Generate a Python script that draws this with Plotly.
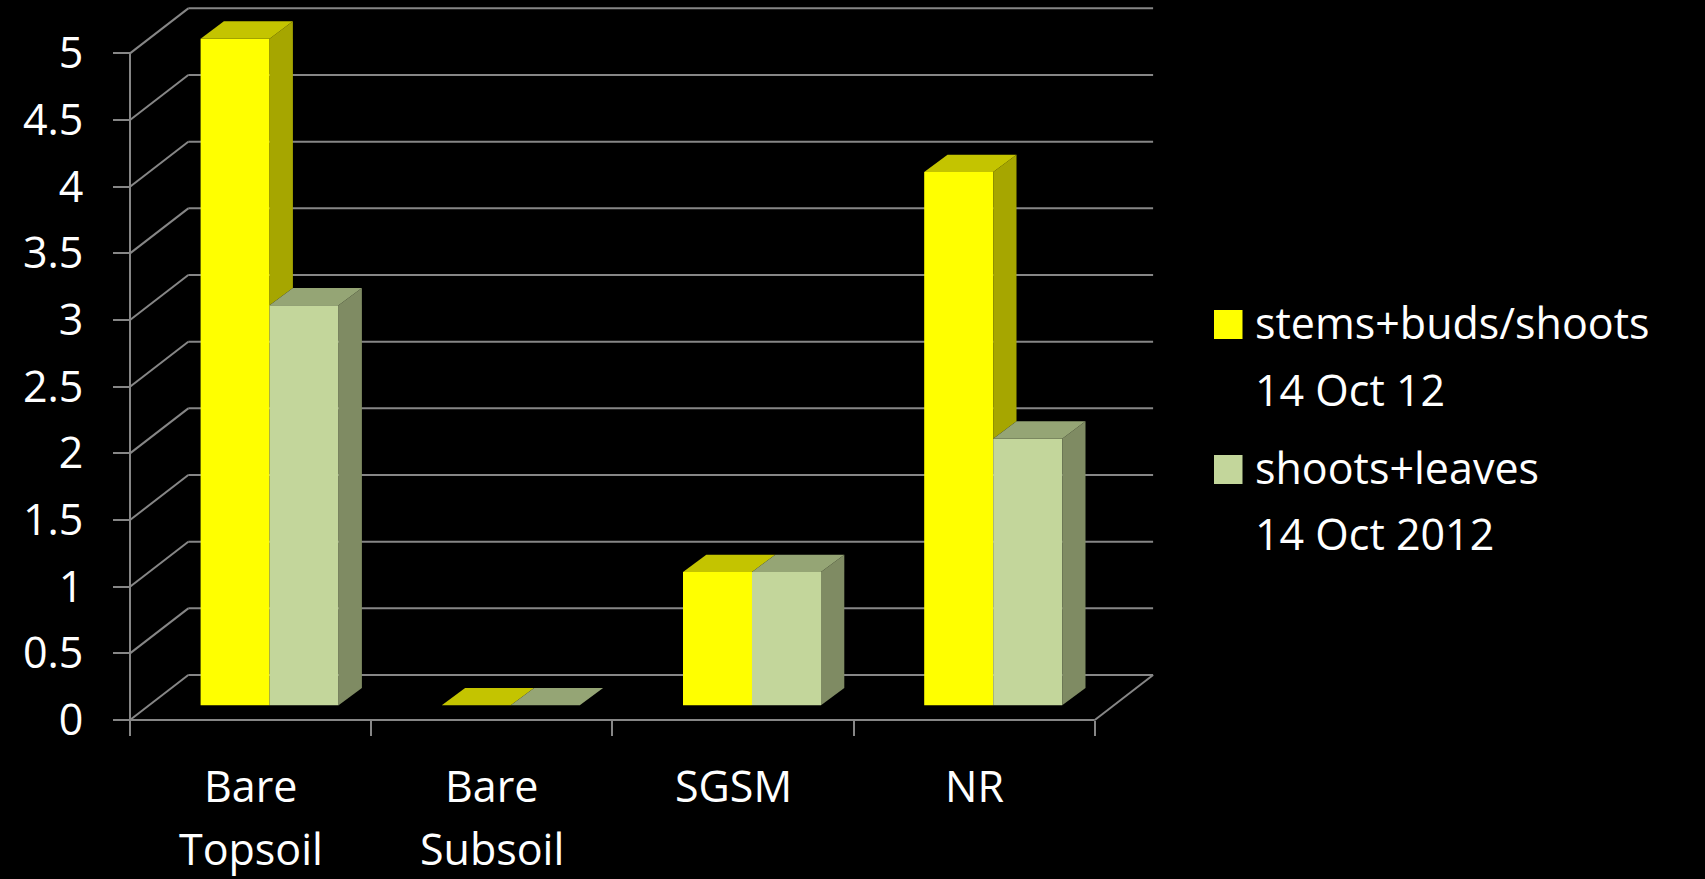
import plotly.graph_objects as go

# ---- data -------------------------------------------------------------
categories = ["Bare Topsoil", "Bare Subsoil", "SGSM", "NR"]
stems_buds = [5, 0, 1, 4]
shoots_leaves = [3, 0, 1, 2]
series_labels = [["stems+buds/shoots", "14 Oct 12"], ["shoots+leaves", "14 Oct 2012"]]
y_ticks = [0, 0.5, 1, 1.5, 2, 2.5, 3, 3.5, 4, 4.5, 5]
y_tick_text = ["0", "0.5", "1", "1.5", "2", "2.5", "3", "3.5", "4", "4.5", "5"]

# ---- styling ----------------------------------------------------------
W_PX, H_PX = 1705, 879
FONT = "Open Sans"
FS = 43
GRID = "#868686"
front_col = ["#FFFF00", "#C3D69B"]
side_col = ["#A6A600", "#7F8B63"]
top_col = ["#C4C400", "#95A575"]

# pixel geometry of the 3-D frame
AX_PX = 130.0          # x pixel of the front value axis
ZERO_PX = 720.0        # y pixel of value 0 on the front plane
CAT_PX = 241.2         # width of one category
UNIT_PX = 133.33       # pixels per value unit
WALL_DX, WALL_DY = 58.3 / CAT_PX, 45.0 / UNIT_PX     # front -> back wall
FACE_DX, FACE_DY = 19.0 / CAT_PX, 14.7 / UNIT_PX     # front -> bar front face
BAR_DX, BAR_DY = 23.3 / CAT_PX, 17.3 / UNIT_PX       # bar depth
BAR_W = 69.0 / CAT_PX

x_left = -0.5
x_right = x_left + len(categories)


def px_x(px):
    return x_left + (px - AX_PX) / CAT_PX


def py_y(py):
    return (ZERO_PX - py) / UNIT_PX


x_range = [px_x(0), px_x(W_PX)]
y_range = [py_y(H_PX), py_y(0)]

fig = go.Figure()

# ---- bars: front faces as bars, side/top faces as filled polygons ------
series = [stems_buds, shoots_leaves]
idx = list(range(len(categories)))
for s, vals in enumerate(series):
    fig.add_trace(go.Bar(
        x=idx, y=vals, base=FACE_DY, width=BAR_W,
        offset=FACE_DX - BAR_W + s * BAR_W,
        marker=dict(color=front_col[s], line=dict(width=0)),
        name=" ".join(series_labels[s]), showlegend=False,
    ))
    for i, v in enumerate(vals):
        xl = i + FACE_DX - BAR_W + s * BAR_W
        xr = xl + BAR_W
        top = FACE_DY + v
        # side face: the part hidden behind the next series is left out
        if s + 1 < len(series):
            low = FACE_DY + min(series[s + 1][i], v)
        else:
            low = FACE_DY
        if top > low:
            fig.add_trace(go.Scatter(
                x=[xr, xr, xr + BAR_DX, xr + BAR_DX, xr],
                y=[low, top, top + BAR_DY, low + BAR_DY, low],
                fill="toself", fillcolor=side_col[s], mode="lines",
                line=dict(width=0), showlegend=False, hoverinfo="skip",
            ))
        fig.add_trace(go.Scatter(
            x=[xl, xr, xr + BAR_DX, xl + BAR_DX, xl],
            y=[top, top, top + BAR_DY, top + BAR_DY, top],
            fill="toself", fillcolor=top_col[s], mode="lines",
            line=dict(width=0), showlegend=False, hoverinfo="skip",
        ))

# ---- walls, floor and grid -------------------------------------------
shapes = []
line = dict(color=GRID, width=2)
for v in y_ticks:
    shapes.append(dict(type="line", xref="x", yref="y", layer="below",
                       x0=x_left + WALL_DX, x1=x_right + WALL_DX,
                       y0=v + WALL_DY, y1=v + WALL_DY, line=line))
    shapes.append(dict(type="line", xref="x", yref="y", layer="below",
                       x0=x_left, x1=x_left + WALL_DX,
                       y0=v, y1=v + WALL_DY, line=line))
shapes.append(dict(type="line", xref="x", yref="y", layer="below",
                   x0=x_left, x1=x_left, y0=0, y1=max(y_ticks), line=line))
shapes.append(dict(type="line", xref="x", yref="y", layer="below",
                   x0=x_left, x1=x_right, y0=0, y1=0, line=line))
shapes.append(dict(type="line", xref="x", yref="y", layer="below",
                   x0=x_right, x1=x_right + WALL_DX, y0=0, y1=WALL_DY, line=line))

# ---- legend drawn as swatches + text -----------------------------------
annotations = []
legend_rows = [(310.0, 339.3, 406.0), (455.0, 484.0, 550.0)]
for s, (sw_top, base1, base2) in enumerate(legend_rows):
    shapes.append(dict(type="rect", xref="paper", yref="paper",
                       x0=1214 / W_PX, x1=1242.5 / W_PX,
                       y0=1 - (sw_top + 29) / H_PX, y1=1 - sw_top / H_PX,
                       fillcolor=front_col[s], line=dict(width=0)))
    for text, base in zip(series_labels[s], (base1, base2)):
        annotations.append(dict(
            text=text, xref="paper", yref="paper",
            x=1253 / W_PX, y=1 - (base - 16.7) / H_PX,
            xanchor="left", yanchor="middle", showarrow=False,
            font=dict(family=FONT, size=FS, color="white")))

# ---- category labels -------------------------------------------------
for i, name in enumerate(categories):
    for k, text in enumerate(name.split(" ")):
        base = 801.7 + k * 63.3
        annotations.append(dict(
            text=text, xref="x", yref="paper",
            x=i, y=1 - (base - 16.7) / H_PX,
            xanchor="center", yanchor="middle", showarrow=False,
            font=dict(family=FONT, size=FS, color="white")))

fig.update_layout(
    width=W_PX, height=H_PX,
    margin=dict(l=0, r=0, t=0, b=0),
    paper_bgcolor="black", plot_bgcolor="black",
    barmode="overlay", showlegend=False,
    shapes=shapes, annotations=annotations,
    xaxis=dict(range=x_range, anchor="free", position=(H_PX - ZERO_PX) / H_PX,
               tickmode="array", tickvals=[x_left + k for k in range(len(categories) + 1)],
               showticklabels=False, ticks="outside", ticklen=15,
               tickcolor=GRID, tickwidth=2,
               showgrid=False, zeroline=False, showline=False, fixedrange=True),
    yaxis=dict(range=y_range, anchor="free", position=AX_PX / W_PX,
               tickmode="array", tickvals=y_ticks, ticktext=y_tick_text,
               ticks="outside", ticklen=17, tickcolor=GRID, tickwidth=2,
               ticklabelstandoff=21,
               tickfont=dict(family=FONT, size=FS, color="white"),
               showgrid=False, zeroline=False, showline=False, fixedrange=True),
)

fig.write_html("out.html")
